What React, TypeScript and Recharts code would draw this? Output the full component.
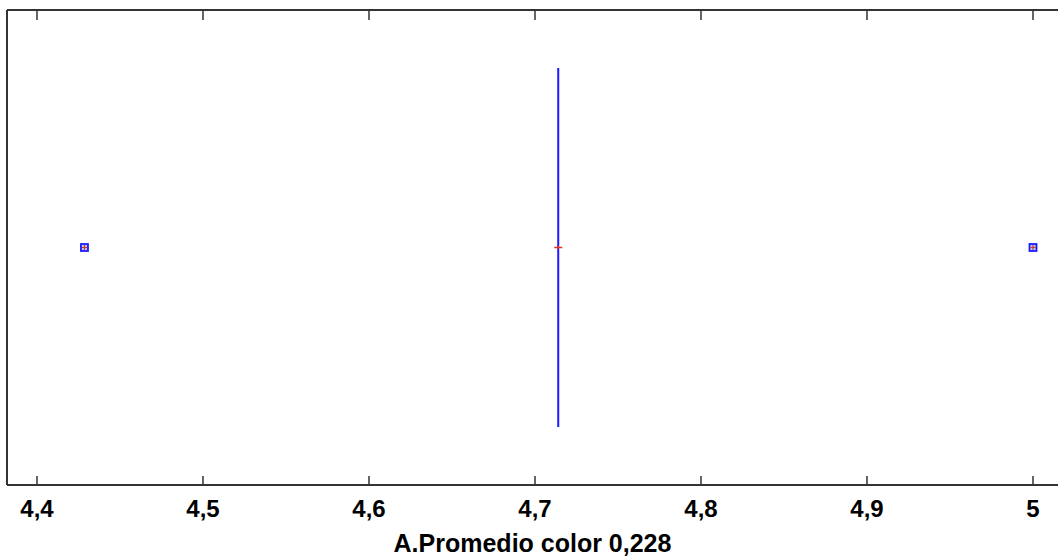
import { ComposedChart, Scatter, XAxis, YAxis } from "recharts";

// valores
const xTicks = [4.4, 4.5, 4.6, 4.7, 4.8, 4.9, 5];
const boxValue = 4.714;
const boxSpan = [0.122, 0.878];
const meanValue = 4.714;
const outlierValues = [4.4286, 5.0];
const axisTitle = "A.Promedio color 0,228";

const boxLine = boxSpan.map((y) => ({ x: boxValue, y }));
const meanPoint = [{ x: meanValue, y: 0.5 }];
const outlierPoints = outlierValues.map((x) => ({ x, y: 0.5 }));

const FONT = "'Liberation Sans', Arial, sans-serif";
const AXIS = "#333333";
const DOMAIN: [number, number] = [4.38193, 5.01506];

function fmt(v: number) {
  return String(v).replace(".", ",");
}

// marca hacia dentro + etiqueta debajo
function BottomTick(props: any) {
  const { x, y, payload } = props;
  return (
    <g>
      <line x1={x} x2={x} y1={y} y2={y - 9} stroke={AXIS} strokeWidth={1.5} />
      <text
        x={x}
        y={y + 32}
        textAnchor="middle"
        fontSize={24}
        fontWeight="bold"
        fontFamily={FONT}
        fill="#000"
      >
        {fmt(payload.value)}
      </text>
    </g>
  );
}

function TopTick(props: any) {
  const { x, y } = props;
  return <line x1={x} x2={x} y1={y} y2={y + 10} stroke={AXIS} strokeWidth={1.5} />;
}

function MeanMark(props: any) {
  const { cx, cy } = props;
  return (
    <g>
      <line x1={cx - 4} x2={cx + 4} y1={cy} y2={cy} stroke="#e0301e" strokeWidth={1.5} />
      <line x1={cx} x2={cx} y1={cy - 2} y2={cy + 2} stroke="#e0301e" strokeWidth={1} />
    </g>
  );
}

function OutlierMark(props: any) {
  const { cx, cy } = props;
  return (
    <g>
      <rect x={cx - 3.5} y={cy - 3.5} width={7} height={7} fill="#c8c8ff" stroke="#1a1aff" strokeWidth={1.8} />
      <line x1={cx - 2.5} x2={cx + 2.5} y1={cy} y2={cy} stroke="#c04020" strokeWidth={1.2} />
      <line x1={cx} x2={cx} y1={cy - 2.5} y2={cy + 2.5} stroke="#c04020" strokeWidth={1.2} />
    </g>
  );
}

export default function App() {
  return (
    <div style={{ position: "absolute", left: 0, top: 0, background: "#fff", fontFamily: FONT }}>
      <ComposedChart width={1058} height={559} margin={{ top: 9, right: 0, bottom: 0, left: 0 }}>
        <XAxis
          xAxisId="bottom"
          dataKey="x"
          type="number"
          domain={DOMAIN}
          ticks={xTicks}
          allowDataOverflow
          height={74}
          tickSize={0}
          tickMargin={0}
          axisLine={{ stroke: AXIS, strokeWidth: 2 }}
          tickLine={false}
          tick={BottomTick}
          label={{
            value: axisTitle,
            position: "insideBottom",
            offset: 7,
            style: { fontSize: 25, fontWeight: "bold", fill: "#000", fontFamily: FONT },
          }}
        />
        <XAxis
          xAxisId="top"
          orientation="top"
          dataKey="x"
          type="number"
          domain={DOMAIN}
          ticks={xTicks}
          allowDataOverflow
          height={1}
          tickSize={0}
          tickMargin={0}
          tick={TopTick}
          tickLine={false}
          axisLine={{ stroke: AXIS, strokeWidth: 2 }}
        />
        <YAxis
          dataKey="y"
          type="number"
          domain={[0, 1]}
          width={7}
          tick={false}
          tickLine={false}
          axisLine={{ stroke: AXIS, strokeWidth: 2 }}
        />
        <Scatter
          xAxisId="bottom"
          data={boxLine}
          line={{ stroke: "#1a1aff", strokeWidth: 2 }}
          shape={() => <g />}
          isAnimationActive={false}
        />
        <Scatter
          xAxisId="bottom"
          data={meanPoint}
          shape={MeanMark}
          isAnimationActive={false}
        />
        <Scatter
          xAxisId="bottom"
          data={outlierPoints}
          shape={OutlierMark}
          isAnimationActive={false}
        />
      </ComposedChart>
    </div>
  );
}
